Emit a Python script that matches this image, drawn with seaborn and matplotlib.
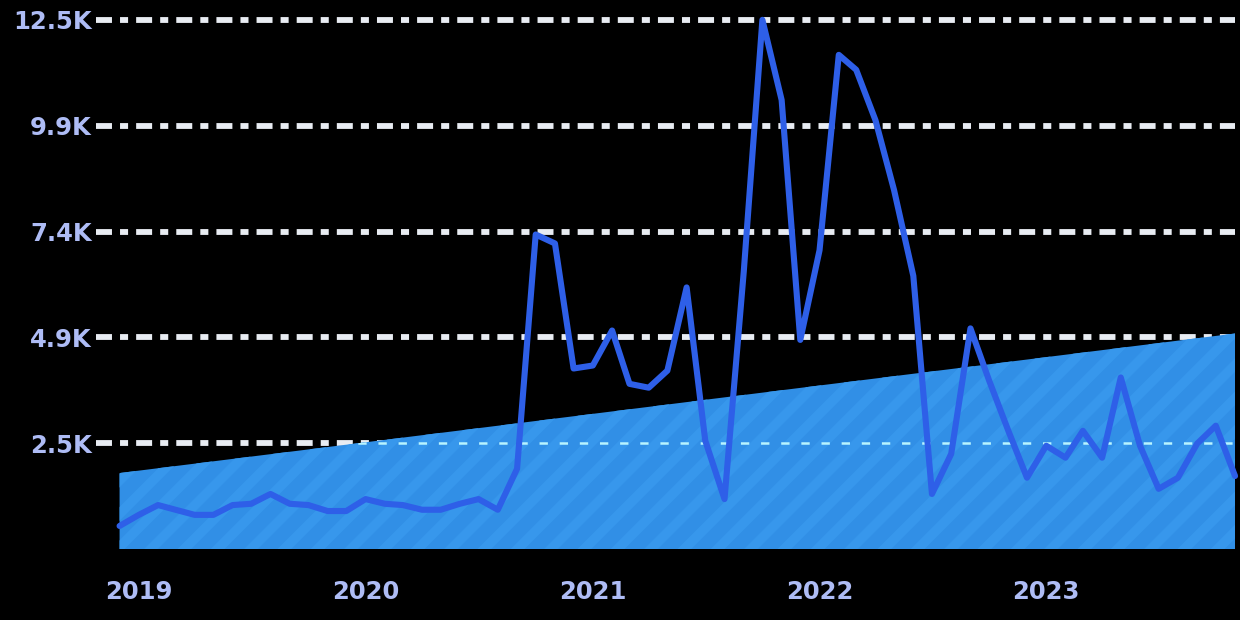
"""Serie mensual con area de tendencia, estilo oscuro."""

import matplotlib
matplotlib.use("Agg")
import matplotlib.pyplot as plt
import pandas as pd
import seaborn as sns

# valores mensuales (miles), dic-2018 .. nov-2023
values = [
    0.54, 0.80, 1.03, 0.92, 0.80, 0.80, 1.03, 1.06, 1.29, 1.06,
    1.03, 0.89, 0.89, 1.17, 1.06, 1.03, 0.92, 0.92, 1.06, 1.17,
    0.92, 1.88, 7.37, 7.16, 4.23, 4.30, 5.12, 3.87, 3.78, 4.18,
    6.13, 2.54, 1.17, 6.50, 12.40, 10.52, 4.90, 7.00, 11.58, 11.23,
    10.05, 8.41, 6.40, 1.29, 2.23, 5.17, 3.95, 2.77, 1.67, 2.42,
    2.14, 2.77, 2.14, 4.02, 2.42, 1.41, 1.67, 2.47, 2.89, 1.71,
]
start_month = "2018-12-01"

# extremos del area de tendencia (miles)
trend_values = [1.78, 5.05]

year_ticks = ["2019", "2020", "2021", "2022", "2023"]
y_tick_labels = ["2.5K", "4.9K", "7.4K", "9.9K", "12.5K"]

LINE_COLOR = "#2e5fe8"
AREA_COLOR = "#318fe6"
HATCH_COLOR = "#3797ec"
TEXT_COLOR = "#aebcf5"

sns.set_theme(style="dark")
plt.rcParams["font.family"] = ["DejaVu Sans"]
plt.rcParams["hatch.linewidth"] = 7
plt.rcParams["lines.scale_dashes"] = False

dates = pd.date_range(start_month, periods=len(values), freq="MS")
df = pd.DataFrame({"fecha": dates, "valor": values})

fig = plt.figure(figsize=(12.4, 6.2), dpi=100, facecolor="black")
ax = fig.add_axes([0.0774, 0.1145, 0.9186, 0.8535])
ax.set_facecolor("black")
for spine in ax.spines.values():
    spine.set_visible(False)

ymax = max(values)
y_ticks = [ymax * k / 5 for k in range(1, 6)]

# grid punto-raya blanco
for yt in y_ticks:
    ax.axhline(yt, color="#e8ecf2", linewidth=4.2, clip_on=False,
               linestyle=(0, (11.5, 5.8, 5.8, 5.8)), zorder=1)

trend_x = [dates[0], dates[-1]]
area = ax.fill_between(trend_x, [0, 0], trend_values, facecolor=AREA_COLOR,
                       edgecolor=HATCH_COLOR, hatch="/", linewidth=0, zorder=2)

ref = ax.axhline(y_ticks[0], color="#b8f4ff", linewidth=1.8,
                 linestyle=(0, (6, 8.5)), zorder=3)
ref.set_clip_path(area.get_paths()[0], ax.transData)

sns.lineplot(data=df, x="fecha", y="valor", ax=ax, color=LINE_COLOR,
             linewidth=4.4, zorder=4, clip_on=False)

ax.set_xlim(pd.Timestamp(start_month) - pd.Timedelta(days=38), dates[-1])
ax.set_ylim(0, ymax)

ax.set_yticks(y_ticks)
ax.set_yticklabels(y_tick_labels, fontweight="bold")
ax.set_xticks([pd.Timestamp(f"{y}-01-01") for y in year_ticks])
ax.set_xticklabels(year_ticks, fontweight="bold")
ax.tick_params(axis="y", length=0, pad=3, labelsize=17.5, labelcolor=TEXT_COLOR)
ax.tick_params(axis="x", length=0, pad=22, labelsize=17.5, labelcolor=TEXT_COLOR)
ax.grid(False)
ax.set_xlabel("")
ax.set_ylabel("")

fig.savefig("out.png", dpi=100, facecolor="black")
plt.close(fig)
